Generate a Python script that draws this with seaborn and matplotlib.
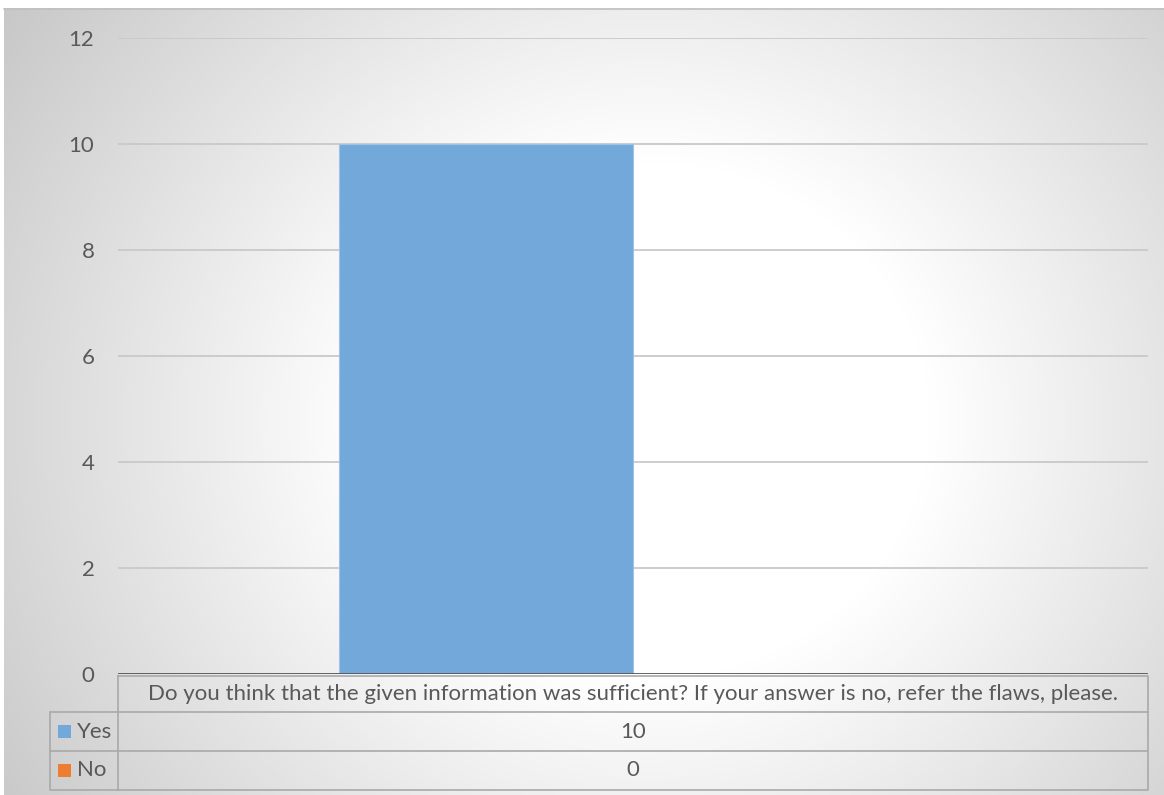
import numpy as np
import pandas as pd
import matplotlib
matplotlib.use("Agg")
import matplotlib.pyplot as plt
import seaborn as sns

# data
question = "Do you think that the given information was sufficient? If your answer is no, refer the flaws, please."
answers = ["Yes", "No"]
counts = [10, 0]
colors = ["#72a8da", "#ed7d31"]
y_ticks = [0, 2, 4, 6, 8, 10, 12]

W, H = 1164, 795
TEXT = "#595959"
GRID = "#c9c9c9"
BORDER = "#a9a9a9"
FS = 16

sns.set_theme(style="white")
plt.rcParams["font.family"] = ["Lato", "DejaVu Sans"]

fig = plt.figure(figsize=(W / 100, H / 100), dpi=100)
fig.patch.set_facecolor("white")

# background: radial gradient like the Excel chart area (pixel coords)
bg = fig.add_axes([0, 0, 1, 1])
xx, yy = np.meshgrid(np.arange(4, W) + 0.5, np.arange(8, H) + 0.5)
d = np.sqrt(((xx - 650) / 650) ** 2 + ((yy - 420) / 600) ** 2)
v = 1 - 0.28 * np.clip(d - 0.43, 0, None)
img = np.dstack([v, v, v])
bg.imshow(img, extent=(4, W, H, 8), aspect="auto", interpolation="bilinear")
bg.set_xlim(0, W)
bg.set_ylim(H, 0)
bg.axis("off")
bg.plot([4, W], [8.5, 8.5], color="#c0c0c0", lw=1.2)

# plot area
left, right, y0, y12 = 118, 1148, 674, 38
ax = fig.add_axes([left / W, (H - y0) / H, (right - left) / W, (y0 - y12) / H])
ax.patch.set_alpha(0)

df = pd.DataFrame({"question": [question] * len(answers), "answer": answers, "count": counts})
sns.barplot(data=df, x="question", y="count", hue="answer", hue_order=answers,
            palette=dict(zip(answers, colors)), width=0.57, saturation=1, ax=ax,
            edgecolor="#9dc3e6", linewidth=0.8, legend=False, zorder=3)

ax.set_xlim(-0.5, 0.5)
ax.set_ylim(0, 12)
ax.set_yticks(y_ticks)
ax.set_yticklabels([str(t) for t in y_ticks], fontsize=FS, color=TEXT)
ax.tick_params(axis="y", length=0, pad=17)
ax.set_xticks([])
ax.set_xlabel("")
ax.set_ylabel("")
for t in y_ticks[1:]:
    ax.axhline(t, color=GRID, lw=1.3, zorder=1)
ax.axhline(0, color="#555555", lw=2.0, zorder=4)
for s in ax.spines.values():
    s.set_visible(False)

# data table below the plot area
hdr_top, hdr_bot, row1_bot, row2_bot = 676, 712, 751, 790
lab_left = 50
bg.plot([left, right, right, left, left], [hdr_top, hdr_top, row2_bot, row2_bot, hdr_top],
        color=BORDER, lw=1.2)
bg.plot([lab_left, right], [hdr_bot, hdr_bot], color=BORDER, lw=1.2)
bg.plot([lab_left, right], [row1_bot, row1_bot], color=BORDER, lw=1.2)
bg.plot([lab_left, lab_left, left], [hdr_bot, row2_bot, row2_bot], color=BORDER, lw=1.2)

mid = (left + right) / 2
bg.text(mid, (hdr_top + hdr_bot) / 2, question, ha="center", va="center",
        fontsize=FS, color=TEXT)
row_mids = [(hdr_bot + row1_bot) / 2, (row1_bot + row2_bot) / 2]
for name, val, col, ym in zip(answers, counts, colors, row_mids):
    bg.text(mid, ym, str(val), ha="center", va="center", fontsize=FS, color=TEXT)
    bg.add_patch(plt.Rectangle((58, ym - 6.5), 13, 13, color=col, lw=0))
    bg.text(77, ym, name, ha="left", va="center", fontsize=FS, color=TEXT)

fig.savefig("out.png", dpi=100)
